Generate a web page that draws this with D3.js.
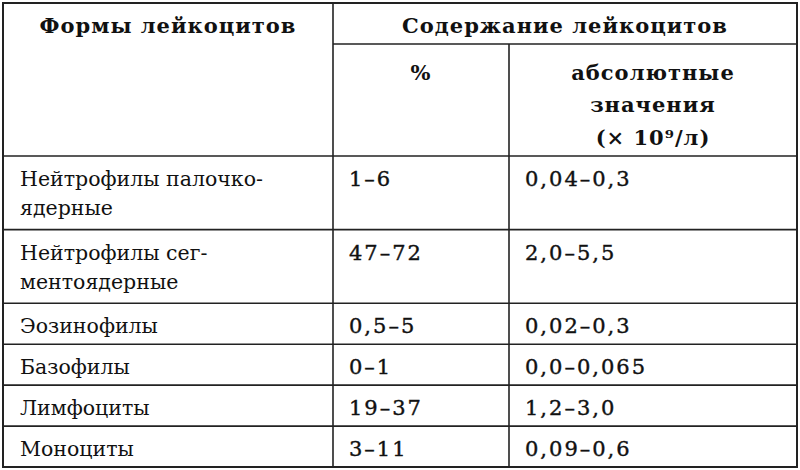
<!DOCTYPE html><html><head><meta charset="utf-8">
<script src="https://cdn.jsdelivr.net/npm/d3@7"></script>
<style>body{margin:0;background:#fff}</style></head><body>
<script>
const forms = [["Нейтрофилы палочко-","ядерные"],["Нейтрофилы сег-","ментоядерные"],["Эозинофилы"],["Базофилы"],["Лимфоциты"],["Моноциты"]];
const percent = ["1–6","47–72","0,5–5","0–1","19–37","3–11"];
const absolute = ["0,04–0,3","2,0–5,5","0,02–0,3","0,0–0,065","1,2–3,0","0,09–0,6"];
const headers = {col1:"Формы лейкоцитов", group:"Содержание лейкоцитов", pct:"%", abs:["абсолютные","значения","(× 10⁹/л)"]};

const W=800,H=470;
const svg=d3.select("body").append("svg").attr("width",W).attr("height",H);
const font="'DejaVu Serif', serif";
const colX=[3,333,509,797];
const units=forms.map(f=>f.length===2?1.8:1);
const cum=[0];units.forEach(u=>cum.push(cum[cum.length-1]+u));
const y=d3.scaleLinear().domain([0,cum[cum.length-1]]).range([156,467]);
const g=svg.append("g").attr("font-family",font).attr("fill","#111");
const ln=(x1,y1,x2,y2,w)=>svg.append("line").attr("x1",x1).attr("y1",y1).attr("x2",x2).attr("y2",y2).attr("stroke","#222").attr("stroke-width",w||1.6);
svg.append("rect").attr("x",3).attr("y",3).attr("width",794).attr("height",464).attr("fill","none").attr("stroke","#222").attr("stroke-width",2);
ln(colX[1],3,colX[1],467);ln(colX[2],44,colX[2],467);ln(colX[1],44,797,44);
cum.slice(0,-1).forEach(c=>ln(3,y(c),797,y(c)));
const bold=(t,xx,yy)=>g.append("text").attr("x",xx).attr("y",yy).attr("text-anchor","middle").attr("font-weight","bold").attr("font-size",21).attr("letter-spacing",1).text(t);
bold(headers.col1,(colX[0]+colX[1])/2,33);
bold(headers.group,(colX[1]+colX[3])/2,33);
bold(headers.pct,(colX[1]+colX[2])/2,80);
headers.abs.forEach((t,i)=>bold(t,(colX[2]+colX[3])/2,[80,112,145][i]));
forms.forEach((f,i)=>{
  const top=y(cum[i]);
  f.forEach((t,j)=>g.append("text").attr("x",20).attr("y",top+30+j*29).attr("font-size",20.5).text(t));
  g.append("text").attr("x",349).attr("y",top+30).attr("font-size",21).attr("font-weight","500").attr("letter-spacing",2).attr("stroke","#111").attr("stroke-width",0.4).text(percent[i]);
  g.append("text").attr("x",525).attr("y",top+30).attr("font-size",21).attr("font-weight","500").attr("letter-spacing",2).attr("stroke","#111").attr("stroke-width",0.4).text(absolute[i]);
});
</script></body></html>
